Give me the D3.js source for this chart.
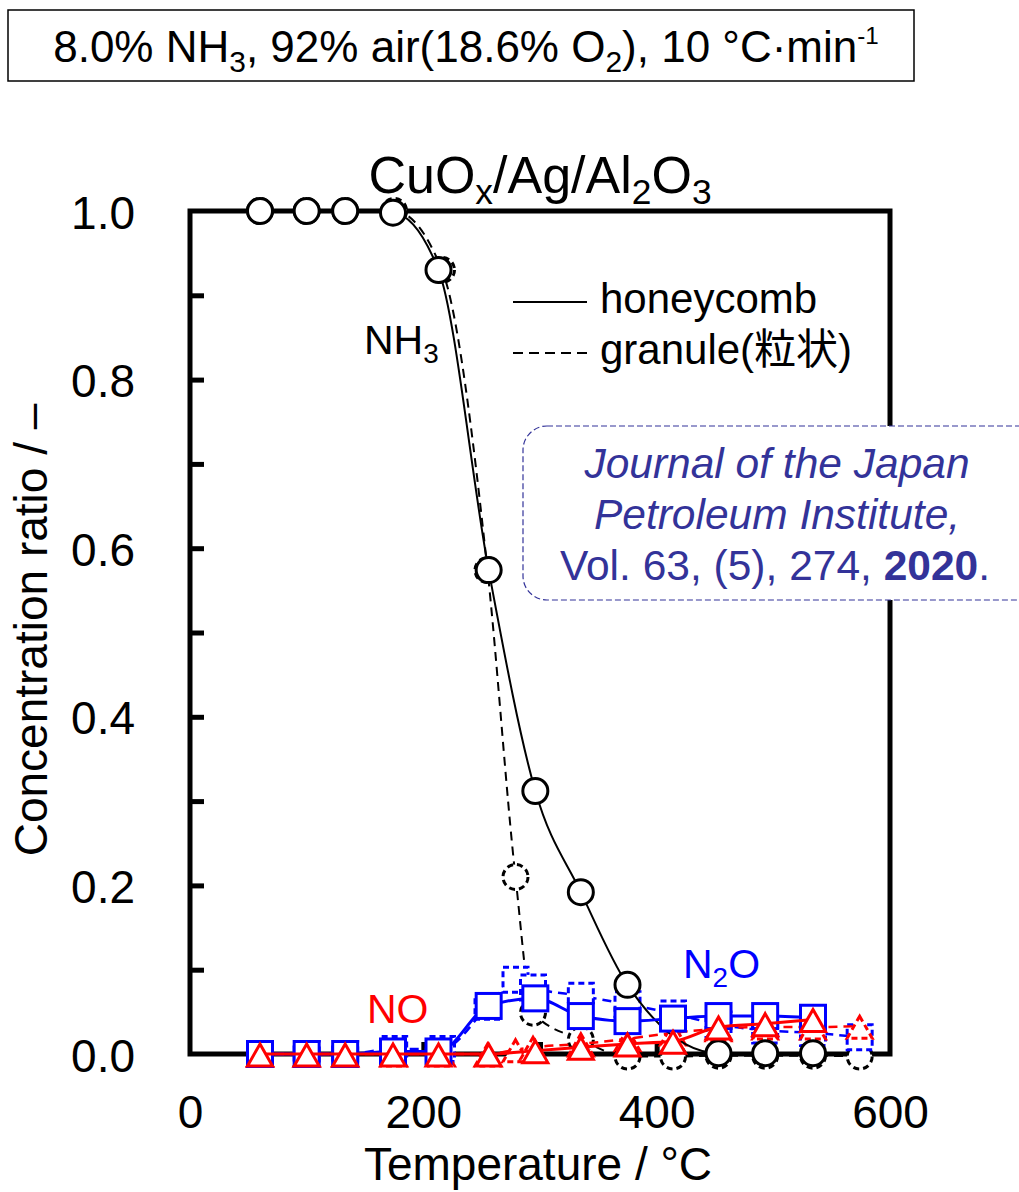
<!DOCTYPE html>
<html>
<head>
<meta charset="utf-8">
<script src="https://cdn.jsdelivr.net/npm/d3@7"></script>
<style>
  body { margin: 0; background: #fff; }
  svg { display: block; }
  text { font-family: "Liberation Sans", Arial, "Noto Sans CJK JP", sans-serif; fill: #000; }
</style>
</head>
<body>
<svg id="chart" width="1019" height="1192"></svg>
<script>
// honeycomb catalyst (solid lines)
var hcTemp = [60, 100, 133, 174, 213, 256, 296, 335, 375, 414, 453, 493, 534];
var hcNH3  = [1.0, 1.0, 1.0, 0.998, 0.93, 0.574, 0.312, 0.192, 0.082, null, 0.001, 0.001, 0.001];
var hcN2O  = [0, 0, 0, 0.003, 0.003, 0.057, 0.066, 0.045, 0.039, 0.042, 0.045, 0.045, 0.043];
var hcNO   = [0, 0, 0, 0, 0, 0, 0.004, 0.008, 0.012, 0.015, 0.032, 0.036, 0.041];

// granule catalyst (dashed lines)
var grTemp = [60, 100, 133, 175, 216, 255, 279, 294, 335, 375, 414, 453, 493, 534, 574];
var grNH3  = [1.0, 1.0, 1.0, 1.0, 0.93, 0.574, 0.21, 0.049, 0.017, -0.003, -0.003, -0.002, -0.002, -0.002, -0.003];
var grN2O  = [0, 0, 0, 0.006, 0.006, 0.056, 0.088, 0.079, 0.069, 0.059, 0.048, 0.035, 0.028, 0.025, 0.02];
var grNO   = [0, 0, 0, 0, 0, 0, 0.005, 0.008, 0.012, 0.018, 0.025, 0.03, 0.032, 0.032, 0.033];

var xTicks = [0, 200, 400, 600];
var xMinor = [100, 200, 300, 400, 500];
var yTicks = [0, 0.2, 0.4, 0.6, 0.8, 1.0];
var yMinor = [0.1, 0.2, 0.3, 0.4, 0.5, 0.6, 0.7, 0.8, 0.9];

var blue = '#0000ff', red = '#ff0000', cite = '#333399';

var svg = d3.select('#chart');

var x = d3.scaleLinear().domain([0, 600]).range([190, 890]);
var y = d3.scaleLinear().domain([0, 1]).range([1054, 211]);

// text with sub / superscripts: parts = [[text, 'sub'|'sup'|null, bold]]
function richText(sel, px, py, parts, size, anchor, color) {
  var t = sel.append('text')
    .attr('x', px).attr('y', py)
    .attr('text-anchor', anchor || 'start')
    .style('font-size', size + 'px');
  if (color) t.style('fill', color);
  var shift = 0;
  parts.forEach(function(p) {
    var want = 0, fs = size;
    if (p[1] === 'sub') { want = size * 0.22; fs = size * 0.68; }
    if (p[1] === 'sup') { want = -size * 0.42; fs = size * 0.55; }
    t.append('tspan')
      .attr('dy', want - shift)
      .style('font-size', fs + 'px')
      .style('font-weight', p[2] ? 'bold' : null)
      .text(p[0]);
    shift = want;
  });
  return t;
}

// header box
svg.append('rect')
  .attr('x', 8).attr('y', 10).attr('width', 906).attr('height', 71)
  .attr('fill', 'none').attr('stroke', '#000').attr('stroke-width', 1.5);
richText(svg, 466, 62, [['8.0% NH'], ['3', 'sub'], [', 92% air(18.6% O'], ['2', 'sub'],
  ['), 10 °C\u00b7min'], ['-1', 'sup']], 44, 'middle');

// title
richText(svg, 540, 193, [['CuO'], ['x', 'sub'], ['/Ag/Al'], ['2', 'sub'], ['O'], ['3', 'sub']], 52, 'middle');

// frame
svg.append('rect')
  .attr('x', x(0)).attr('y', y(1))
  .attr('width', x(600) - x(0)).attr('height', y(0) - y(1))
  .attr('fill', 'none').attr('stroke', '#000').attr('stroke-width', 5);

// minor ticks (inward)
var yMinorAxis = d3.axisLeft(y).tickValues(yMinor).tickSizeInner(-14).tickSizeOuter(0).tickFormat('');
svg.append('g').attr('transform', 'translate(' + x(0) + ',0)').call(yMinorAxis)
  .call(function(g) { g.select('.domain').remove(); g.selectAll('line').attr('stroke-width', 5); });

var xMinorAxis = d3.axisBottom(x).tickValues(xMinor).tickSizeInner(-12).tickSizeOuter(0).tickFormat('');
svg.append('g').attr('transform', 'translate(0,' + y(0) + ')').call(xMinorAxis)
  .call(function(g) { g.select('.domain').remove(); g.selectAll('line').attr('stroke-width', 5); });

// tick labels
var yAxis = d3.axisLeft(y).tickValues(yTicks).tickSize(0).tickPadding(55).tickFormat(d3.format('.1f'));
svg.append('g').attr('transform', 'translate(' + x(0) + ',0)').call(yAxis)
  .call(function(g) {
    g.select('.domain').remove();
    g.selectAll('text').attr('dy', '0.37em')
      .style('font-size', '46px').attr('fill', '#000');
  });

var xAxis = d3.axisBottom(x).tickValues(xTicks).tickSize(0).tickPadding(41).tickFormat(d3.format('d'));
svg.append('g').attr('transform', 'translate(0,' + y(0) + ')').call(xAxis)
  .call(function(g) {
    g.select('.domain').remove();
    g.selectAll('text').style('font-size', '46px').attr('fill', '#000');
  });
svg.selectAll('.tick text').attr('font-family', null).attr('font-size', null);

// axis titles
svg.append('text')
  .attr('x', 538).attr('y', 1180)
  .attr('text-anchor', 'middle')
  .style('font-size', '46px')
  .text('Temperature / °C');

svg.append('text')
  .attr('transform', 'translate(47,' + 630 + ') rotate(-90)')
  .attr('text-anchor', 'middle')
  .style('font-size', '46px')
  .text('Concentration ratio / \u2013');

// series
var line = d3.line()
  .x(function(d) { return x(d.t); })
  .y(function(d) { return y(d.v); })
  .curve(d3.curveMonotoneX);

function triPath(s, h) {
  return 'M0,' + (-h / 2) + 'L' + (s / 2) + ',' + (h / 2) + 'L' + (-s / 2) + ',' + (h / 2) + 'Z';
}

function drawSeries(temps, vals, shape, color, dashed, lw) {
  var pts = temps.map(function(t, i) { return { t: t, v: vals[i] }; })
    .filter(function(d) { return d.v != null; });
  var g = svg.append('g');
  g.append('path')
    .datum(pts)
    .attr('d', line)
    .attr('fill', 'none')
    .attr('stroke', color)
    .attr('stroke-width', lw)
    .attr('stroke-dasharray', dashed ? '9,6' : null);

  var m = g.selectAll('.mk').data(pts).enter();
  var mk;
  if (shape === 'circle') {
    mk = m.append('circle')
      .attr('cx', function(d) { return x(d.t); })
      .attr('cy', function(d) { return y(d.v); })
      .attr('r', 12.5);
  } else if (shape === 'square') {
    mk = m.append('rect')
      .attr('x', function(d) { return x(d.t) - 12.5; })
      .attr('y', function(d) { return y(d.v) - 12.5; })
      .attr('width', 25).attr('height', 25);
  } else {
    mk = m.append('path')
      .attr('transform', function(d) { return 'translate(' + x(d.t) + ',' + (y(d.v) + 1) + ')'; })
      .attr('d', triPath(25, 22));
  }
  mk.attr('fill', '#fff')
    .attr('stroke', color)
    .attr('stroke-width', 3)
    .attr('stroke-dasharray', dashed ? '6,4' : null);
}

drawSeries(grTemp, grNH3, 'circle', '#000', true, 2);
drawSeries(grTemp, grN2O, 'square', blue, true, 2.5);
drawSeries(grTemp, grNO, 'triangle', red, true, 2.5);
drawSeries(hcTemp, hcNH3, 'circle', '#000', false, 2);
drawSeries(hcTemp, hcN2O, 'square', blue, false, 3);
drawSeries(hcTemp, hcNO, 'triangle', red, false, 3);

// gas labels
richText(svg, 364, 354, [['NH'], ['3', 'sub']], 41);
richText(svg, 683, 978, [['N'], ['2', 'sub'], ['O']], 41, 'start', blue);
svg.append('text').attr('x', 367).attr('y', 1023)
  .style('font-size', '41px').style('fill', red).text('NO');

// legend
var legend = svg.append('g');
legend.append('line').attr('x1', 513).attr('x2', 587).attr('y1', 302).attr('y2', 302)
  .attr('stroke', '#000').attr('stroke-width', 2);
legend.append('line').attr('x1', 513).attr('x2', 587).attr('y1', 353).attr('y2', 353)
  .attr('stroke', '#000').attr('stroke-width', 2).attr('stroke-dasharray', '10,6');
legend.append('text').attr('x', 600).attr('y', 313).style('font-size', '42px').text('honeycomb');
legend.append('text').attr('x', 600).attr('y', 364).style('font-size', '42px').text('granule(粒状)');

// citation box
svg.append('rect')
  .attr('x', 523).attr('y', 426).attr('width', 520).attr('height', 174).attr('rx', 24)
  .attr('fill', '#fff').attr('stroke', cite).attr('stroke-width', 1.2)
  .attr('stroke-dasharray', '6,3');
svg.append('text').attr('x', 777).attr('y', 478).attr('text-anchor', 'middle')
  .style('font-size', '42.5px').style('font-style', 'italic').style('fill', cite)
  .text('Journal of the Japan');
svg.append('text').attr('x', 777).attr('y', 529).attr('text-anchor', 'middle')
  .style('font-size', '42.5px').style('font-style', 'italic').style('fill', cite)
  .text('Petroleum Institute,');
richText(svg, 775, 580, [['Vol. 63, (5), 274, '], ['2020', null, true], ['.']], 42.5, 'middle', cite);
</script>
</body>
</html>
